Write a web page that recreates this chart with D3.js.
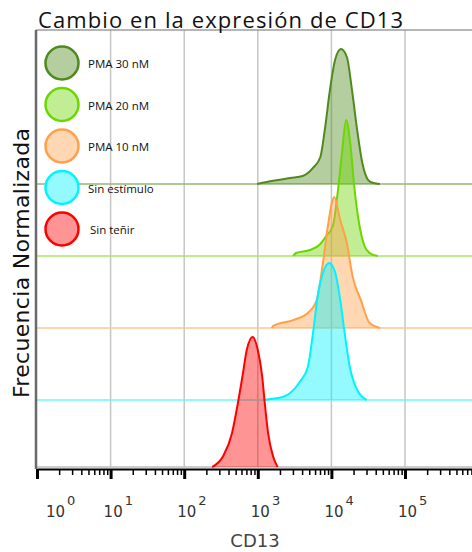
<!DOCTYPE html>
<html>
<head>
<meta charset="utf-8">
<script src="https://cdn.jsdelivr.net/npm/d3@7"></script>
<style>
  body { margin: 0; background: #fff; }
  svg { display: block; }
</style>
</head>
<body>
<div id="chart"></div>
<script>
// Data: series listed top to bottom, as stacked in the plot
let seriesNames = ["PMA 30 nM", "PMA 20 nM", "PMA 10 nM", "Sin estímulo", "Sin teñir"];
let seriesColors = ["#4f8a1c", "#6cd600", "#ffa04a", "#00f4ff", "#ff0000"];

// each histogram point: [log10(CD13), normalized frequency (%)]
let pma30 = [[2.99, 0], [3.12, 1.5], [3.44, 4.4], [3.61, 5.8], [3.75, 11.7],
  [3.85, 19.7], [3.91, 39.4], [3.98, 68.6], [4.05, 90.5], [4.13, 98.5], [4.21, 92.7], [4.28, 68.6],
  [4.35, 39.4], [4.42, 15.3], [4.50, 2.9], [4.57, 0.7], [4.66, 0]];
let pma20 = [[3.48, 0], [3.52, 2.2], [3.71, 4.4], [3.85, 8.8], [3.93, 14.6],
  [4.02, 21.9], [4.08, 43.8], [4.14, 73], [4.20, 99.3], [4.26, 80.3], [4.31, 51.1], [4.36, 29.2],
  [4.41, 14.6], [4.45, 7.3], [4.52, 2.2], [4.63, 0]];
let pma10 = [[3.19, 0], [3.21, 1.5], [3.48, 5.8], [3.68, 11], [3.80, 20.4],
  [3.89, 49.6], [3.95, 73.7], [4.04, 95.6], [4.12, 78.8], [4.21, 62], [4.29, 37.2], [4.40, 20.4],
  [4.52, 3.6], [4.66, 0]];
let sinEstimulo = [[3.10, 0], [3.17, 0.7], [3.34, 2.2], [3.44, 5.1], [3.57, 13.1], [3.68, 24.1],
  [3.75, 48.9], [3.82, 78.1], [3.89, 93.4], [3.97, 100], [4.05, 93.4], [4.12, 73], [4.18, 48.9],
  [4.25, 24.1], [4.35, 7.3], [4.48, 0]];
let sinTenir = [[2.38, 0], [2.53, 8], [2.65, 24.8], [2.72, 43.8], [2.79, 65.7], [2.85, 85.4],
  [2.93, 94.9], [3.00, 85.4], [3.06, 65.7], [3.10, 43.8], [3.14, 24.8], [3.21, 7.3], [3.27, 0]];

let seriesData = [pma30, pma20, pma10, sinEstimulo, sinTenir];
let decades = [0, 1, 2, 3, 4, 5];
let gridDecades = [1, 2, 3, 4, 5];

// Layout
let width = 472;
let height = 552;
let plotLeft = 37;
let plotTop = 30;
let plotBottom = 467;
let axisY = 469;
let stackTop = 184;
let stackStep = 72;

let svg = d3.select("#chart")
  .append("svg")
  .attr("width", width)
  .attr("height", height);

// scales
let xScale = d3.scaleLog()
  .domain([1, 1e6])
  .range([plotLeft, plotLeft + 6 * 73.6]);
let hScale = d3.scaleLinear()
  .domain([0, 100])
  .range([0, 137]);

function baseline(i) {
  // last series sits on the bottom of the plot
  return i === seriesNames.length - 1 ? plotBottom : stackTop + i * stackStep;
}
function fillColor(c) {
  return d3.interpolateRgb("#ffffff", c)(0.42);
}
function isDecade(v) {
  return Math.abs(Math.log10(v) - Math.round(Math.log10(v))) < 1e-9;
}

// vertical grid lines
svg.append("g")
  .selectAll("line")
  .data(gridDecades)
  .enter()
  .append("line")
  .attr("x1", d => xScale(Math.pow(10, d)))
  .attr("x2", d => xScale(Math.pow(10, d)))
  .attr("y1", plotTop)
  .attr("y2", plotBottom)
  .attr("stroke", "#c6c6c6")
  .attr("stroke-width", 1.5);

// bottom frame line
svg.append("line")
  .attr("x1", plotLeft).attr("x2", width)
  .attr("y1", plotBottom).attr("y2", plotBottom)
  .attr("stroke", "#bdbdbd").attr("stroke-width", 1.5);

// histograms
let area = d3.area()
  .x(d => xScale(Math.pow(10, d[0])))
  .y0(0)
  .y1(d => -hScale(d[1]))
  .curve(d3.curveMonotoneX);
let line = area.lineY1();

seriesData.forEach(function(data, i) {
  let g = svg.append("g")
    .attr("class", "hist")
    .attr("transform", "translate(0," + baseline(i) + ")");
  let c = seriesColors[i];

  if (i < seriesNames.length - 1) {
    g.append("line")
      .attr("x1", plotLeft).attr("x2", width)
      .attr("y1", 0).attr("y2", 0)
      .attr("stroke", d3.interpolateRgb("#ffffff", c)(0.6))
      .attr("stroke-width", 1.5);
  }
  g.append("path")
    .datum(data)
    .attr("d", area)
    .attr("fill", c)
    .attr("fill-opacity", 0.42);
  g.append("path")
    .datum(data)
    .attr("d", line)
    .attr("fill", "none")
    .attr("stroke", c)
    .attr("stroke-width", 2);
});

// top and left frame
svg.append("line")
  .attr("x1", plotLeft - 1).attr("x2", width)
  .attr("y1", plotTop).attr("y2", plotTop)
  .attr("stroke", "#6e6e6e").attr("stroke-width", 1.2);
svg.append("line")
  .attr("x1", plotLeft - 1).attr("x2", plotLeft - 1)
  .attr("y1", plotTop).attr("y2", axisY)
  .attr("stroke", "#6a6a6a").attr("stroke-width", 2.5);

// x axis with log minor ticks
let tickVals = [];
decades.forEach(function(k) {
  for (let m = 1; m <= 9; m++) tickVals.push(m * Math.pow(10, k));
});
tickVals.push(1e6);

let xAxis = d3.axisBottom(xScale)
  .tickValues(tickVals)
  .tickFormat("")
  .tickSize(6)
  .tickSizeOuter(0);

let axisG = svg.append("g")
  .attr("class", "xAxis")
  .attr("transform", "translate(0," + axisY + ")")
  .call(xAxis);
axisG.select(".domain").attr("stroke", "#000").attr("stroke-width", 2);
axisG.selectAll(".tick line")
  .attr("stroke", "#000")
  .attr("stroke-width", d => (isDecade(d) ? 3 : 1.5))
  .attr("y2", d => (isDecade(d) ? 10 : 6));

// decade labels 10^k
let labels = svg.append("g")
  .selectAll("text")
  .data(decades)
  .enter()
  .append("text")
  .attr("x", d => xScale(Math.pow(10, d)) + (d === 0 ? 9 : -7))
  .attr("y", 517)
  .attr("font-family", "DejaVu Sans, sans-serif")
  .attr("font-size", 15)
  .attr("fill", "#333");
labels.append("tspan").text("10");
labels.append("tspan")
  .attr("dx", 2)
  .attr("dy", -12)
  .attr("font-size", 13)
  .text(d => d);

// axis titles
svg.append("text")
  .attr("x", 255)
  .attr("y", 547)
  .attr("text-anchor", "middle")
  .attr("font-family", "DejaVu Sans, sans-serif")
  .attr("font-size", 18)
  .attr("fill", "#444")
  .text("CD13");

svg.append("text")
  .attr("transform", "translate(29,263)rotate(-90)")
  .attr("text-anchor", "middle")
  .attr("font-family", "DejaVu Sans, sans-serif")
  .attr("font-size", 22)
  .attr("textLength", 270)
  .attr("fill", "#111")
  .text("Frecuencia Normalizada");

// chart title
svg.append("text")
  .attr("x", 38)
  .attr("y", 28)
  .attr("font-family", "Open Sans, sans-serif")
  .attr("font-size", 22)
  .attr("textLength", 365)
  .attr("fill", "#111")
  .text("Cambio en la expresión de CD13");

// legend
let legend = svg.append("g")
  .selectAll("g")
  .data(seriesNames)
  .enter()
  .append("g")
  .attr("transform", (d, i) => "translate(62," + (63 + i * 41.5) + ")");
legend.append("circle")
  .attr("r", 16.5)
  .attr("fill", (d, i) => fillColor(seriesColors[i]))
  .attr("stroke", (d, i) => seriesColors[i])
  .attr("stroke-width", 2.5);
legend.append("text")
  .attr("x", (d, i) => (i === seriesNames.length - 1 ? 28 : 26))
  .attr("y", 5)
  .attr("font-family", "Open Sans, sans-serif")
  .attr("font-size", 11.5)
  .attr("fill", "#111")
  .text(d => d);
</script>
</body>
</html>
